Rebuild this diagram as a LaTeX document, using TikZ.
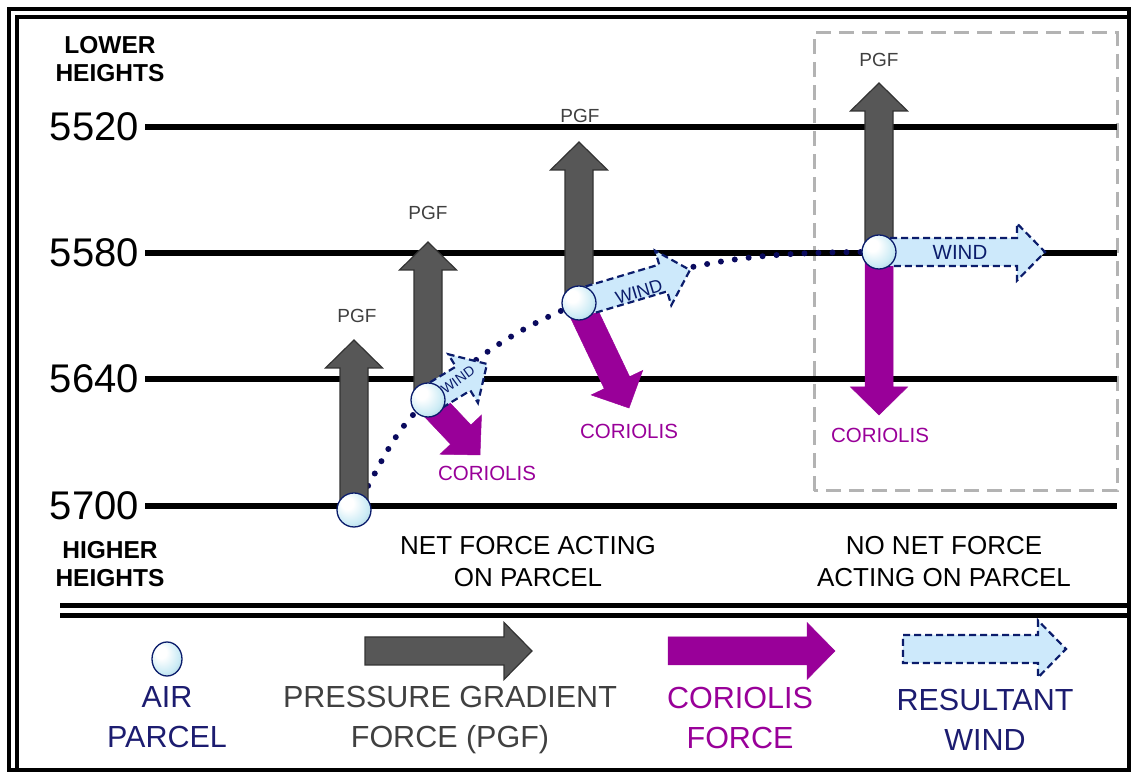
\documentclass[tikz,border=0pt]{standalone}
\usepackage{fontspec}
\setmainfont{Liberation Sans}
\usetikzlibrary{calc,shapes.geometric}
\definecolor{pgfgray}{HTML}{575757}
\definecolor{pgfedge}{HTML}{333333}
\definecolor{labgray}{HTML}{404040}
\definecolor{corpurple}{HTML}{990099}
\definecolor{windfill}{HTML}{CDE9FB}
\definecolor{navy}{HTML}{0B1C6B}
\definecolor{dotnavy}{HTML}{0A0A5E}
\definecolor{textnavy}{HTML}{1C1C70}
\definecolor{boxgray}{HTML}{B3B3B3}
\definecolor{ballmid}{HTML}{CBEBF5}
\definecolor{balledge}{HTML}{86AEBE}
\pgfdeclareradialshading{parcelball}{\pgfpoint{-12bp}{12bp}}{color(0bp)=(white); color(9bp)=(white); color(26bp)=(ballmid); color(44bp)=(balledge); color(50bp)=(balledge)}
\newcommand\fatarrow[3][]{%
  \coordinate (fa-b) at ($(#3)!28pt!(#2)$);
  \draw[#1] ($(#2)!14pt!90:(#3)$) -- ($(fa-b)!14pt!90:(#3)$) -- ($(fa-b)!28.5pt!90:(#3)$) -- (#3)
    -- ($(fa-b)!28.5pt!-90:(#3)$) -- ($(fa-b)!14pt!-90:(#3)$) -- ($(#2)!14pt!-90:(#3)$) -- cycle;}
\tikzset{
  level/.style={line width=6pt, black},
  pgfarrow/.style={fill=pgfgray, draw=pgfedge, line width=1.2pt, line join=miter},
  corarrow/.style={fill=corpurple, draw=corpurple, line width=0.5pt},
  windarrow/.style={fill=windfill, draw=navy, line width=2.2pt, dash pattern=on 7pt off 4pt, line join=miter},
  parcel/.style={circle, minimum size=34pt, inner sep=0pt, shading=parcelball, draw=navy, line width=1.3pt},
  heightlab/.style={anchor=east, font=\fontsize{40}{44}\selectfont, inner sep=0pt},
  sidelab/.style={align=center, font=\bfseries\fontsize{24.5}{28}\selectfont, inner sep=0pt},
  pgflab/.style={text=labgray, font=\fontsize{19}{22}\selectfont, inner sep=0pt},
  corlab/.style={text=corpurple, font=\fontsize{20.5}{23}\selectfont, inner sep=0pt},
  windlab/.style={text=navy, inner sep=0pt},
  caption/.style={align=center, font=\fontsize{26}{32}\selectfont, inner sep=0pt},
  legtext/.style={align=center, font=\fontsize{30.5}{40}\selectfont, inner sep=0pt},
  dotline/.style={dotnavy, line width=6pt, dash pattern=on 0pt off 14pt, line cap=round}
}
\begin{document}
\begin{tikzpicture}[x=1pt,y=1pt]
\useasboundingbox (0,0) rectangle (1133,776);
\fill[white] (0,0) rectangle (1133,776);
% frame
\draw[line width=4pt] (9,6) rectangle (1129,767);
\draw[line width=4pt] (17,6) -- (17,759) -- (1129,759);
% dashed box
\draw[boxgray, line width=3pt, dash pattern=on 15pt off 8pt] (814,285) rectangle (1117,743);
% level lines
\coordinate (l1a) at (145,649); \coordinate (l1b) at (1117,649);
\coordinate (l2a) at (145,523); \coordinate (l2b) at (1117,523);
\coordinate (l3a) at (145,397); \coordinate (l3b) at (1117,397);
\coordinate (l4a) at (145,270); \coordinate (l4b) at (1117,270);
\draw[level] (l1a) -- (l1b);
\draw[level] (l2a) -- (l2b);
\draw[level] (l3a) -- (l3b);
\draw[level] (l4a) -- (l4b);
% separator
\coordinate (s1a) at (60,170.5); \coordinate (s1b) at (1128,170.5);
\coordinate (s2a) at (60,160.5); \coordinate (s2b) at (1128,160.5);
\draw[line width=5pt] (s1a) -- (s1b);
\draw[line width=5pt] (s2a) -- (s2b);
% height labels
\node[heightlab] (h5520) at (139,649) {5520};
\node[heightlab] (h5580) at (139,523) {5580};
\node[heightlab] (h5640) at (139,397) {5640};
\node[heightlab] (h5700) at (139,270) {5700};
\node[sidelab] (lower) at (110,717) {LOWER\\HEIGHTS};
\node[sidelab] (higher) at (110,212) {HIGHER\\HEIGHTS};
% parcels positions
\coordinate (p1c) at (354,266);
\coordinate (p2c) at (428,376);
\coordinate (p3c) at (579,473);
\coordinate (p4c) at (879,524);
% dotted trajectory
\draw[dotline] (p1c) to[out=58,in=222] (p2c) to[out=42,in=203] (p3c) to[out=22,in=180] (p4c);
% tips
\coordinate (t1) at (354,436);
\coordinate (t2) at (428,534);
\coordinate (t3) at (579,634);
\coordinate (t4) at (879,693);
\coordinate (c2) at (480,321);
\coordinate (c3) at (629,368);
\coordinate (c4) at (879,361);
\coordinate (w2) at (487,412);
\coordinate (w3) at (690,506);
\coordinate (w4) at (1045,524);
% PGF arrows
\fatarrow[pgfarrow]{p1c}{t1}
\fatarrow[pgfarrow]{p2c}{t2}
\fatarrow[pgfarrow]{p3c}{t3}
\fatarrow[pgfarrow]{p4c}{t4}
% Coriolis arrows
\fatarrow[corarrow]{p2c}{c2}
\fatarrow[corarrow]{p3c}{c3}
\fatarrow[corarrow]{p4c}{c4}
% wind arrows
\fatarrow[windarrow]{p2c}{w2}
\fatarrow[windarrow]{p3c}{w3}
\fatarrow[windarrow]{p4c}{w4}
\node[windlab, rotate=36, font=\fontsize{14}{16}\selectfont] (wl2) at (458,396) {WIND};
\node[windlab, rotate=17, font=\fontsize{18}{20}\selectfont] (wl3) at (639,484) {WIND};
\node[windlab, font=\fontsize{20.5}{23}\selectfont] (wl4) at (960,524) {WIND};
% parcels
\node[parcel] (p1) at (p1c) {};
\node[parcel] (p2) at (p2c) {};
\node[parcel] (p3) at (p3c) {};
\node[parcel] (p4) at (p4c) {};
% labels
\node[pgflab] (g1) at (357,460) {PGF};
\node[pgflab] (g2) at (428,563) {PGF};
\node[pgflab] (g3) at (580,660) {PGF};
\node[pgflab] (g4) at (879,716) {PGF};
\node[corlab] (k2) at (487,303) {CORIOLIS};
\node[corlab] (k3) at (629,345) {CORIOLIS};
\node[corlab] (k4) at (880,341) {CORIOLIS};
\node[caption] (net) at (528,214) {NET FORCE ACTING\\ON PARCEL};
\node[caption] (nonet) at (944,214) {NO NET FORCE\\ACTING ON PARCEL};
% legend
\node[ellipse, minimum width=30pt, minimum height=34pt, inner sep=0pt, shading=parcelball, draw=navy, line width=1.3pt] (lp) at (167,117) {};
\coordinate (la1) at (365,125); \coordinate (la2) at (532,125);
\coordinate (lb1) at (668,125); \coordinate (lb2) at (835,125);
\coordinate (lc1) at (903,127); \coordinate (lc2) at (1066,127);
\fatarrow[pgfarrow]{la1}{la2}
\fatarrow[corarrow]{lb1}{lb2}
\fatarrow[windarrow]{lc1}{lc2}
\node[legtext, text=textnavy] (lt1) at (167,59) {AIR\\PARCEL};
\node[legtext, text=labgray] (lt2) at (450,56) {PRESSURE GRADIENT\\FORCE (PGF)};
\node[legtext, text=corpurple] (lt3) at (740,58) {CORIOLIS\\FORCE};
\node[legtext, text=textnavy] (lt4) at (985,56) {RESULTANT\\WIND};
\end{tikzpicture}
\end{document}
